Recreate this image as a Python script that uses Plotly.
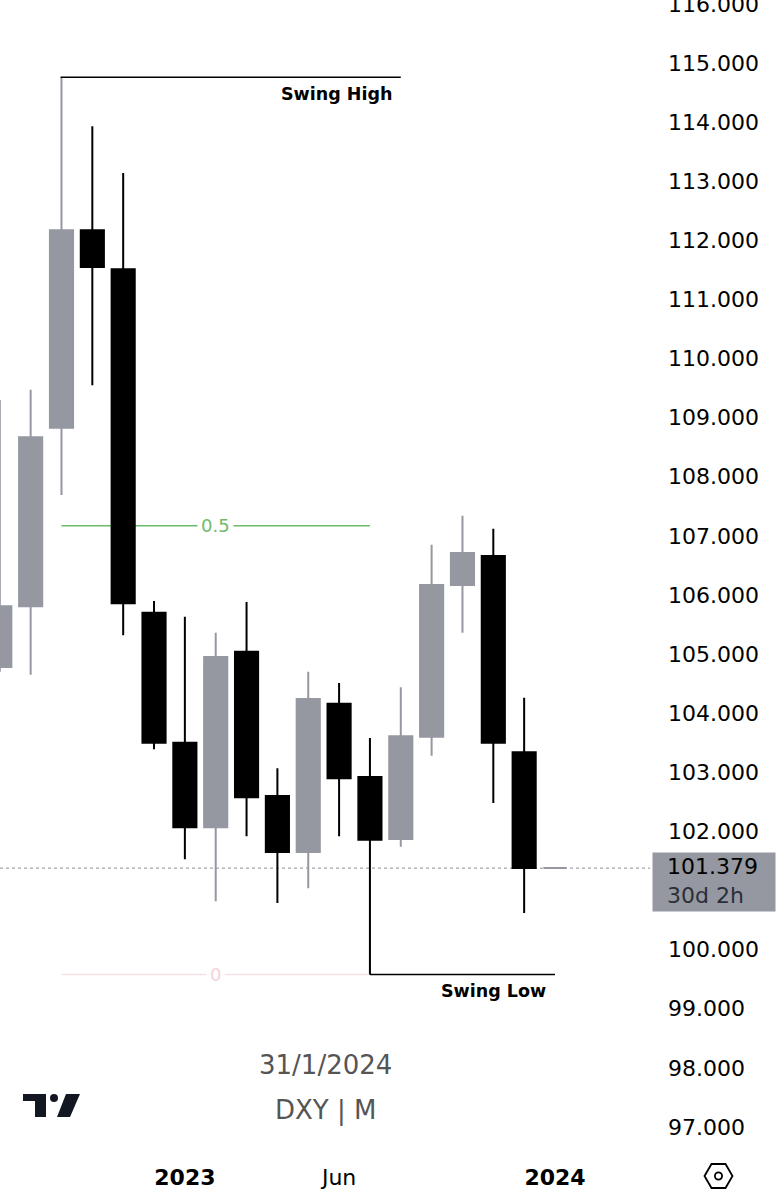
import plotly.graph_objects as go

# ---------------- data ----------------
months = ["2022-07", "2022-08", "2022-09", "2022-10", "2022-11", "2022-12",
          "2023-01", "2023-02", "2023-03", "2023-04", "2023-05", "2023-06",
          "2023-07", "2023-08", "2023-09", "2023-10", "2023-11", "2023-12",
          "2024-01"]
opens = [104.78, 105.81, 108.83, 112.17, 111.51, 105.70,
         103.50, 102.07, 105.04, 102.60, 101.65, 104.16,
         102.92, 101.87, 103.60, 106.17, 106.66, 103.34,
         101.379]
highs = [109.30, 109.47, 114.76, 113.93, 113.14, 105.90,
         105.63, 105.36, 105.88, 103.07, 104.70, 104.51,
         103.58, 104.44, 106.85, 107.34, 107.12, 104.26,
         101.379]
lows = [104.70, 104.65, 107.69, 109.55, 105.32, 103.39,
        101.53, 100.82, 101.92, 100.79, 101.04, 101.92,
        99.58, 101.74, 103.28, 105.36, 102.48, 100.62,
        101.379]
closes = [105.81, 108.67, 112.17, 111.55, 105.86, 103.50,
          102.07, 104.95, 102.58, 101.65, 104.24, 102.90,
          101.86, 103.61, 106.17, 106.71, 103.50, 101.379,
          101.379]

x_tick_months = ["2023-01", "2023-06", "2024-01"]
x_tick_text = ["<b>2023</b>", "Jun", "<b>2024</b>"]
y_tick_vals = [97, 98, 99, 100, 102, 103, 104, 105, 106, 107, 108, 109,
               110, 111, 112, 113, 114, 115, 116]

last_price = closes[-1]
time_left = "30d 2h"
date_text = "31/1/2024"
symbol_text = "DXY | M"

# fib / swing drawing anchors
swing_high_from, swing_high_to = "2022-09", "2023-08"
swing_low_from, swing_low_to = "2023-07", "2024-01"
fib_from, fib_to = "2022-09", "2023-07"

# ---------------- figure ----------------
W, H = 784, 1200
ML, MR, MT, MB = 0, 134, 0, 50
PW, PH = W - ML - MR, H - MT - MB
FONT = "DejaVu Sans"

def px(x):
    return (x - ML) / PW

def py(y):
    return 1 - (y - MT) / PH

idx = list(range(len(months)))
pos = {m: i for i, m in enumerate(months)}

GRAY = "#9598a1"
BLACK = "#000000"

fig = go.Figure()
fig.add_trace(go.Candlestick(
    x=idx[:-1], open=opens[:-1], high=highs[:-1], low=lows[:-1], close=closes[:-1],
    increasing=dict(line=dict(color=GRAY, width=2), fillcolor=GRAY),
    decreasing=dict(line=dict(color=BLACK, width=2), fillcolor=BLACK),
    whiskerwidth=0, hoverinfo="skip", showlegend=False,
))
fig.add_trace(go.Candlestick(
    x=idx[-1:], open=opens[-1:], high=highs[-1:], low=lows[-1:], close=closes[-1:],
    increasing=dict(line=dict(color=GRAY, width=2), fillcolor=GRAY),
    decreasing=dict(line=dict(color=GRAY, width=2), fillcolor=GRAY),
    whiskerwidth=0, hoverinfo="skip", showlegend=False,
))

swing_high = max(highs)
swing_low = min(lows)
fib_mid = (swing_high + swing_low) / 2

shapes = []
annotations = []

# price line
shapes.append(dict(type="line", xref="paper", yref="y", x0=0, x1=1,
                   y0=last_price, y1=last_price,
                   line=dict(color="#8a8d96", width=1, dash="dot"), layer="below"))
# fib levels
shapes.append(dict(type="line", xref="x", yref="y", x0=pos[fib_from], x1=pos[fib_to],
                   y0=fib_mid, y1=fib_mid,
                   line=dict(color="#6dbb6d", width=1.5), layer="below"))
shapes.append(dict(type="line", xref="x", yref="y", x0=pos[fib_from], x1=pos[fib_to],
                   y0=swing_low, y1=swing_low,
                   line=dict(color="#f6e1e4", width=1.5), layer="below"))
# swing lines
shapes.append(dict(type="line", xref="x", yref="y", x0=pos[swing_high_from] - 0.03,
                   x1=pos[swing_high_to], y0=swing_high, y1=swing_high,
                   line=dict(color=BLACK, width=1.5)))
shapes.append(dict(type="line", xref="x", yref="y", x0=pos[swing_low_from],
                   x1=pos[swing_low_to], y0=swing_low, y1=swing_low,
                   line=dict(color=BLACK, width=1.5)))

fib_label_x = (pos[fib_from] + pos[fib_to]) / 2
annotations.append(dict(x=fib_label_x, y=fib_mid, xref="x", yref="y", text="0.5",
                        showarrow=False, bgcolor="white", borderpad=3,
                        font=dict(family=FONT, size=18, color="#6dbb6d")))
annotations.append(dict(x=fib_label_x, y=swing_low, xref="x", yref="y", text="0",
                        showarrow=False, bgcolor="white", borderpad=3,
                        font=dict(family=FONT, size=18, color="#f3d3d8")))

annotations.append(dict(x=pos[swing_high_to], y=swing_high, xref="x", yref="y",
                        text="<b>Swing High</b>", showarrow=False,
                        xanchor="right", yanchor="top", xshift=-7, yshift=-5,
                        font=dict(family=FONT, size=17.5, color=BLACK)))
annotations.append(dict(x=pos[swing_low_to], y=swing_low, xref="x", yref="y",
                        text="<b>Swing Low</b>", showarrow=False,
                        xanchor="right", yanchor="top", xshift=-7, yshift=-5,
                        font=dict(family=FONT, size=17.5, color=BLACK)))

# last price label: background box + text
annotations.append(dict(x=1, y=last_price, xref="paper", yref="y", text=" ",
                        showarrow=False, xanchor="left", yanchor="top",
                        xshift=2, yshift=16, width=122, height=58, borderpad=0,
                        bgcolor=GRAY, font=dict(family=FONT, size=10, color=GRAY)))
annotations.append(dict(x=1, y=last_price, xref="paper", yref="y",
                        text=f"{last_price:.3f}<br><span style='color:#2a2e39'>{time_left}</span>",
                        showarrow=False, xanchor="left", yanchor="top",
                        xshift=16, yshift=15, align="left", borderpad=0,
                        font=dict(family=FONT, size=22, color=BLACK)))

# watermark
annotations.append(dict(x=px(326), y=py(1065), xref="paper", yref="paper",
                        xanchor="center", yanchor="middle",
                        text=date_text, showarrow=False,
                        font=dict(family=FONT, size=26, color="#555555")))
annotations.append(dict(x=px(326), y=py(1110), xref="paper", yref="paper",
                        xanchor="center", yanchor="middle",
                        text=symbol_text, showarrow=False,
                        font=dict(family=FONT, size=26, color="#555555")))

# TradingView logo
shapes.append(dict(type="path", xref="paper", yref="paper", line=dict(width=0),
                   fillcolor="#131722",
                   path=f"M {px(23)} {py(1094)} L {px(46)} {py(1094)} L {px(46)} {py(1117)} "
                        f"L {px(35)} {py(1117)} L {px(35)} {py(1101)} L {px(23)} {py(1101)} Z"))
shapes.append(dict(type="circle", xref="paper", yref="paper", line=dict(width=0),
                   fillcolor="#131722", x0=px(50), x1=px(58), y0=py(1094), y1=py(1102)))
shapes.append(dict(type="path", xref="paper", yref="paper", line=dict(width=0),
                   fillcolor="#131722",
                   path=f"M {px(66)} {py(1094)} L {px(80)} {py(1094)} L {px(70)} {py(1117)} "
                        f"L {px(57)} {py(1117)} Z"))
# settings hexagon
hx, hy = 718.5, 1176
shapes.append(dict(type="path", xref="paper", yref="paper",
                   line=dict(color=BLACK, width=1.8),
                   path=f"M {px(hx-14)} {py(hy)} L {px(hx-7)} {py(hy-12)} L {px(hx+7)} {py(hy-12)} "
                        f"L {px(hx+14)} {py(hy)} L {px(hx+7)} {py(hy+12)} L {px(hx-7)} {py(hy+12)} Z"))
shapes.append(dict(type="circle", xref="paper", yref="paper",
                   line=dict(color=BLACK, width=1.8),
                   x0=px(hx-3.6), x1=px(hx+3.6), y0=py(hy-3.6), y1=py(hy+3.6)))

fig.update_layout(
    width=W, height=H,
    margin=dict(l=ML, r=MR, t=MT, b=MB, autoexpand=False),
    paper_bgcolor="white", plot_bgcolor="white",
    boxgap=0.25, boxgroupgap=0,
    showlegend=False,
    shapes=shapes, annotations=annotations,
    xaxis=dict(range=[0.0065, 21.08], showgrid=False, zeroline=False, showline=False,
               rangeslider=dict(visible=False),
               tickmode="array", tickvals=[pos[m] for m in x_tick_months],
               ticktext=x_tick_text, ticks="", ticklabelstandoff=12,
               tickfont=dict(family=FONT, size=22, color=BLACK)),
    yaxis=dict(side="right", range=[96.61, 116.066], showgrid=False, zeroline=False,
               showline=False, tickmode="array", tickvals=y_tick_vals,
               tickformat=".3f", ticks="", ticklabelstandoff=17,
               ticklabeloverflow="allow",
               tickfont=dict(family=FONT, size=22, color=BLACK)),
)

fig.write_html("out.html", config={"displayModeBar": False},
               post_script="document.body.style.margin='0';")
